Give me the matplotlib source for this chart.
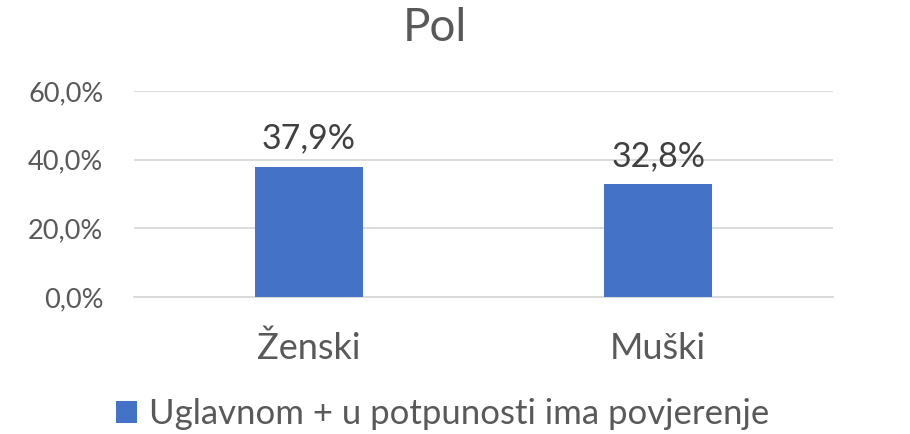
import matplotlib.pyplot as plt
from matplotlib.patches import Patch

plt.rcParams['font.family'] = ['Lato', 'DejaVu Sans']

categories = ['Ženski', 'Muški']
values = [0.379, 0.328]
series_name = 'Uglavnom + u potpunosti ima povjerenje'
yticks = [0.0, 0.2, 0.4, 0.6]

bar_color = '#4472C4'
text_color = '#595959'
grid_color = '#D9D9D9'

W, H = 910, 434
fig = plt.figure(figsize=(W / 100, H / 100), dpi=100)
ax = fig.add_axes([134 / W, 1 - 297 / H, (833 - 134) / W, (297 - 91) / H])

x = range(len(categories))
ax.bar(x, values, width=0.31, color=bar_color, zorder=3)

for xi, v in zip(x, values):
    ax.text(xi, v + 0.036, f'{v * 100:.1f}%'.replace('.', ','), ha='center', va='bottom',
            fontsize=24.5, color='#404040')

ax.set_xlim(-0.5, 1.5)
ax.set_ylim(0, 0.6)
ax.set_yticks(yticks)
ax.set_yticklabels([f'{t * 100:.1f}%'.replace('.', ',') for t in yticks], fontsize=19.5, color=text_color)
ax.set_xticks(list(x))
ax.set_xticklabels(categories, fontsize=26, color=text_color)
ax.tick_params(axis='both', length=0)
ax.tick_params(axis='y', pad=22)
ax.tick_params(axis='x', pad=25)

ax.yaxis.grid(True, color=grid_color, linewidth=1.3, zorder=0)
for s in ['top', 'right', 'left']:
    ax.spines[s].set_visible(False)
ax.spines['bottom'].set_color(grid_color)
ax.spines['bottom'].set_linewidth(1.3)

fig.text(435 / W, 1 - 28 / H, 'Pol', ha='center', va='center', fontsize=33, color=text_color)

handle = Patch(facecolor=bar_color, edgecolor='none')
fig.legend([handle], [series_name], loc='center', bbox_to_anchor=(443 / W, 1 - 414 / H),
           frameon=False, fontsize=25, handlelength=0.6, handleheight=0.6,
           handletextpad=0.35, labelcolor=text_color, borderpad=0, borderaxespad=0)

fig.savefig('out.png', dpi=100)
